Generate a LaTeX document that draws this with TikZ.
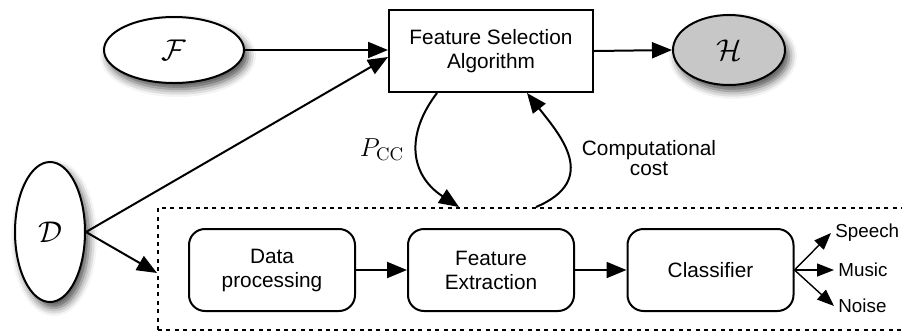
\RequirePackage{fix-cm}
\documentclass[tikz,border=0pt]{standalone}
\usepackage{fontspec}
\newfontfamily\labelfont{Liberation Sans}
\usetikzlibrary{arrows.meta,shadows.blur,shapes.geometric,calc}

\begin{document}
\begin{tikzpicture}[x=0.5pt,y=-0.5pt,
  every node/.style={font=\labelfont\fontsize{10.4}{12}\selectfont},
  wire/.style={line width=1pt,-{Triangle[length=10pt,width=8pt]}},
  thinwire/.style={line width=0.7pt,-{Triangle[length=8.5pt,width=6.5pt]}},
  algbox/.style={draw,line width=1pt,minimum width=102pt,minimum height=41pt,
    align=center,inner sep=0pt},
  stagebox/.style={draw,line width=1pt,rounded corners=8pt,minimum width=83pt,
    minimum height=41pt,align=center,inner sep=0pt},
  setnode/.style={ellipse,draw,line width=1pt,fill=white,inner sep=0pt,
    font=\fontsize{15}{17}\selectfont,
    blur shadow={shadow xshift=2pt,shadow yshift=-3pt,shadow blur radius=4pt,
      shadow opacity=70}},
  pipebox/.style={draw,line width=1pt,dash pattern=on 2pt off 2.2pt,inner sep=0pt},
  outlabel/.style={anchor=west,inner sep=2pt,font=\labelfont\fontsize{9.4}{11}\selectfont},
]
\clip (0,0) rectangle (902,334);

% sets and the selection algorithm
\node[setnode,minimum width=70pt,minimum height=33pt] (F) at (174,50) {$\mathcal{F}$};
\node[algbox] (fsa) at (491,51) {Feature Selection\\Algorithm};
\node[setnode,fill=black!22,minimum width=56pt,minimum height=35pt] (H) at (729,50) {$\mathcal{H}$};
\node[setnode,minimum width=35pt,minimum height=70pt] (D) at (50,232) {$\mathcal{D}$};

% classification pipeline (open to the right)
\node[pipebox,minimum width=381pt,minimum height=61pt] (pipe) at (539,269) {};
\node[stagebox] (dp) at (272,270) {Data\\processing};
\node[stagebox] (fe) at (491,270) {Feature\\Extraction};
\node[stagebox] (cl) at (710.5,270) {Classifier};

% class labels
\node[outlabel] (sp) at (831,233) {Speech};
\node[outlabel] (mu) at (834,270) {Music};
\node[outlabel] (no) at (834,306) {Noise};

% connectors
\draw[wire] (F.east) -- (F.east -| fsa.west);
\draw[wire] (fsa.east) -- (H.west);
\coordinate (fsaIn) at ($(fsa.west)+(0,6)$);
\draw[wire] (D.east) -- (fsaIn);
\coordinate (pipeIn) at ($(pipe.west)+(0,4)$);
\draw[wire] (D.east) -- (pipeIn);
\draw[wire] (dp) -- (fe);
\draw[wire] (fe) -- (cl);
\draw[thinwire] (cl.east) -- (sp.west);
\draw[thinwire] (cl.east) -- (mu.west);
\draw[thinwire] (cl.east) -- (no.west);

% feedback between algorithm and pipeline
\coordinate (pccOut) at ($(fsa.south)+(-54,0)$);
\coordinate (pccIn) at ($(pipe.north west)+(302,0)$);
\draw[wire] (pccOut) .. controls (405,135) and (410,175) .. (pccIn);
\node[font=\fontsize{13}{15}\selectfont] (pcc) at (382,150) {$P_{\mathrm{CC}}$};

\coordinate (costOut) at ($(pipe.north west)+(379,0)$);
\coordinate (costIn) at ($(fsa.south)+(36,0)$);
\draw[wire] (costOut) .. controls (600,180) and (560,135) .. (costIn);
\node[align=center,font=\labelfont\fontsize{10.4}{10}\selectfont] (cost) at (649,158) {Computational\\cost};
\end{tikzpicture}
\end{document}
